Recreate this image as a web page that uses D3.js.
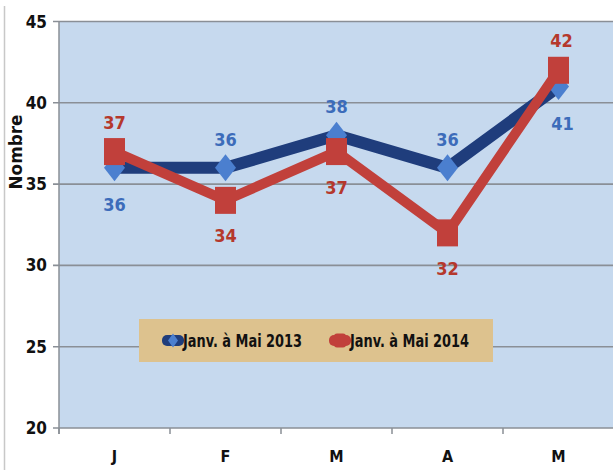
<!DOCTYPE html>
<html><head><meta charset="utf-8">
<script src="https://cdn.jsdelivr.net/npm/d3@7"></script>
<style>
body{margin:0;background:#fff;}
svg{display:block;}
text{font-family:"Liberation Sans Narrow","Arial Narrow","DejaVu Sans Condensed",sans-serif;font-weight:bold;font-stretch:condensed;}
</style></head>
<body><svg id="c" width="613" height="470"></svg>
<script>
const months = ["J","F","M","A","M"];
const series2013 = [36,36,38,36,41];
const series2014 = [37,34,37,32,42];
const yTicks = [20,25,30,35,40,45];
const seriesNames = ["Janv. à Mai 2013","Janv. à Mai 2014"];
// label placement: 1 = above, -1 = below
const pos2013 = [-1,1,1,1,-1];
const pos2014 = [1,-1,-1,-1,1];

const svg = d3.select("#c");
const W=613,H=470;
const m={l:59,r:0,t:21,b:42};
const x = d3.scaleBand().domain(d3.range(months.length)).range([m.l, m.l+111*5]).padding(0);
const y = d3.scaleLinear().domain([20,45]).range([428,21.5]);

// chart left border
svg.append("line").attr("x1",4.5).attr("x2",4.5).attr("y1",6).attr("y2",470).attr("stroke","#c8c8c8").attr("stroke-width",1.5);

// plot background
svg.append("rect").attr("x",m.l).attr("y",y(45)).attr("width",W-m.l).attr("height",y(20)-y(45)).attr("fill","#c6d9ee");

// grid
svg.append("g").selectAll("line").data(yTicks).join("line")
 .attr("x1",m.l-6).attr("x2",W).attr("y1",d=>y(d)).attr("y2",d=>y(d))
 .attr("stroke","#8a8f96").attr("stroke-width",1.6);

// y axis line
svg.append("line").attr("x1",m.l).attr("x2",m.l).attr("y1",y(45)).attr("y2",y(20)+6).attr("stroke","#8a8f96").attr("stroke-width",1.5);
// x ticks
svg.append("g").selectAll("line").data(d3.range(months.length+1)).join("line")
 .attr("x1",i=>m.l+111*i).attr("x2",i=>m.l+111*i).attr("y1",y(20)).attr("y2",y(20)+6)
 .attr("stroke","#8a8f96").attr("stroke-width",1.5);

// y tick labels
svg.append("g").selectAll("text").data(yTicks).join("text")
 .attr("x",47).attr("y",d=>y(d)+6).attr("text-anchor","end").attr("font-size",17).attr("fill","#111").text(d=>d);
// x labels
svg.append("g").selectAll("text").data(months).join("text")
 .attr("x",(d,i)=>x(i)+x.bandwidth()/2).attr("y",462).attr("text-anchor","middle").attr("font-size",16).attr("fill","#111").text(d=>d);

// y title
svg.append("text").attr("transform","translate(22,152) rotate(-90)").attr("text-anchor","middle").attr("font-size",17).attr("fill","#111")
 .attr("textLength",75).attr("lengthAdjust","spacingAndGlyphs").text("Nombre");

const cx = i=>x(i)+x.bandwidth()/2;
const line = d3.line().x((d,i)=>cx(i)).y(d=>y(d));

// 2013 line
svg.append("path").datum(series2013).attr("d",line).attr("fill","none").attr("stroke","#1f3d7c").attr("stroke-width",12).attr("stroke-linejoin","miter");
// diamonds
svg.append("g").selectAll("path").data(series2013).join("path")
 .attr("d",(d,i)=>{const X=cx(i),Y=y(d);return `M${X},${Y-13.5}L${X+10.5},${Y}L${X},${Y+13.5}L${X-10.5},${Y}Z`;})
 .attr("fill","#4b7fcf");

// 2014 line
svg.append("path").datum(series2014).attr("d",line).attr("fill","none").attr("stroke","#c1403b").attr("stroke-width",10).attr("stroke-linejoin","miter");
svg.append("g").selectAll("rect").data(series2014).join("rect")
 .attr("x",(d,i)=>cx(i)-10.5).attr("y",d=>y(d)-13.5).attr("width",21).attr("height",27).attr("fill","#c1403b");

// labels
svg.append("g").selectAll("text").data(series2013).join("text")
 .attr("x",(d,i)=>cx(i)+(i===4?4:0)).attr("y",(d,i)=>pos2013[i]>0? y(d)-22 : y(d)+43)
 .attr("text-anchor","middle").attr("font-size",18).attr("fill","#3c6cba").text(d=>d);
svg.append("g").selectAll("text").data(series2014).join("text")
 .attr("x",(d,i)=>cx(i)+(i===4?3:0)).attr("y",(d,i)=>pos2014[i]>0? y(d)-23 : y(d)+42)
 .attr("text-anchor","middle").attr("font-size",18).attr("fill","#b5382c").text(d=>d);

// legend
const lg = svg.append("g");
lg.append("rect").attr("x",139).attr("y",319).attr("width",354).attr("height",43).attr("fill","#ddc28e");
const legX=[162,329];
seriesNames.forEach((n,k)=>{
  const X=legX[k], Y=340.5;
  if(k===0){
    lg.append("rect").attr("x",X).attr("y",Y-5.5).attr("width",22).attr("height",11).attr("rx",5).attr("fill","#1f3d7c");
    lg.append("path").attr("d",`M${X+11},${Y-7}L${X+16},${Y}L${X+11},${Y+7}L${X+6},${Y}Z`).attr("fill","#4b7fcf");
  } else {
    lg.append("rect").attr("x",X).attr("y",Y-5.5).attr("width",22).attr("height",11).attr("rx",5).attr("fill","#c1403b");
    lg.append("rect").attr("x",X+5).attr("y",Y-7).attr("width",12).attr("height",14).attr("rx",3).attr("fill","#c1403b");
  }
  lg.append("text").attr("x",X+21).attr("y",Y+6.5).attr("font-size",17).attr("fill","#111")
   .attr("textLength",119).attr("lengthAdjust","spacingAndGlyphs").text(n);
});
</script></body></html>
